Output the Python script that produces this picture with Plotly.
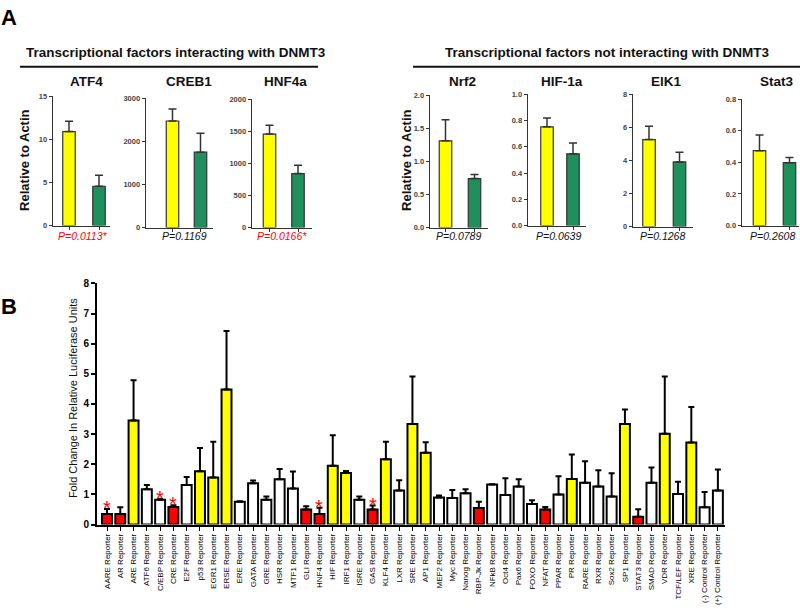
import plotly.graph_objects as go

W, H = 800, 608

# ---------------- Panel A data ----------------
a_targets = ["ATF4", "CREB1", "HNF4a", "Nrf2", "HIF-1a", "ElK1", "Stat3"]
a_yellow = [10.9, 2470, 1455, 1.31, 0.752, 5.26, 0.474]
a_yellow_err = [1.2, 280, 138, 0.32, 0.067, 0.81, 0.099]
a_green = [4.56, 1747, 840, 0.74, 0.546, 3.91, 0.398]
a_green_err = [1.28, 440, 132, 0.06, 0.082, 0.58, 0.033]
a_pvalues = ["P=0.0113*", "P=0.1169", "P=0.0166*", "P=0.0789", "P=0.0639", "P=0.1268", "P=0.2608"]
a_significant = [True, False, True, False, False, False, False]
a_ymax = [15, 3000, 2000, 2.0, 1.0, 8, 0.8]
a_dtick = [5, 1000, 500, 0.5, 0.2, 2, 0.2]
a_tickformat = ["d", "d", "d", ".1f", ".1f", "d", ".1f"]
a_group_titles = ["Transcriptional factors interacting with DNMT3",
                  "Transcriptional factors not interacting with DNMT3"]

# ---------------- Panel B data ----------------
b_labels = ["AARE Reporter", "AR Reporter", "ARE Reporter", "ATF6 Reporter", "C/EBP Reporter",
            "CRE Reporter", "E2F Reporter", "p53 Reporter", "EGR1 Reporter", "ERSE Reporter",
            "ERE Reporter", "GATA Reporter", "GRE Reporter", "HSR Reporter", "MTF1 Reporter",
            "GLI Reporter", "HNF4 Reporter", "HIF Reporter", "IRF1 Reporter", "ISRE Reporter",
            "GAS Reporter", "KLF4 Reporter", "LXR Reporter", "SRE Reporter", "AP1 Reporter",
            "MEF2 Reporter", "Myc Reporter", "Nanog Reporter", "RBP-Jk Reporter", "NFkB Reporter",
            "Oct4 Reporter", "Pax6 Reporter", "FOXO Reporter", "NFAT Reporter", "PPAR Reporter",
            "PR Reporter", "RARE Reporter", "RXR Reporter", "Sox2 Reporter", "SP1 Reporter",
            "STAT3 Reporter", "SMAD Reporter", "VDR Reporter", "TCF/LEF Reporter", "XRE Reporter",
            "(-) Control Reporter", "(+) Control Reporter"]
b_values = [0.35, 0.35, 3.45, 1.17, 0.82, 0.585, 1.31, 1.77, 1.56, 4.48,
            0.76, 1.37, 0.82, 1.50, 1.20, 0.50, 0.35, 1.95, 1.71, 0.82,
            0.50, 2.17, 1.13, 3.34, 2.38, 0.90, 0.88, 1.04, 0.55, 1.33,
            0.98, 1.26, 0.68, 0.50, 1.00, 1.51, 1.39, 1.26, 0.93, 3.34,
            0.26, 1.39, 3.01, 1.01, 2.72, 0.57, 1.13]
b_errors = [0.17, 0.22, 1.34, 0.14, 0.03, 0.055, 0.27, 0.77, 1.19, 1.94,
            0.01, 0.09, 0.11, 0.34, 0.56, 0.11, 0.21, 1.01, 0.07, 0.11,
            0.13, 0.58, 0.34, 1.57, 0.35, 0.065, 0.27, 0.13, 0.21, 0.01,
            0.56, 0.24, 0.13, 0.085, 0.60, 0.81, 0.71, 0.54, 0.77, 0.48,
            0.25, 0.50, 1.90, 0.41, 1.18, 0.51, 0.70]
b_groups = ["down", "down", "up", "none", "none", "down", "none", "up", "up", "up",
            "none", "none", "none", "none", "none", "down", "down", "up", "up", "none",
            "down", "up", "none", "up", "up", "none", "none", "none", "down", "none",
            "none", "none", "none", "down", "none", "up", "none", "none", "none", "up",
            "down", "none", "up", "none", "up", "none", "none"]
b_starred = ["AARE Reporter", "C/EBP Reporter", "CRE Reporter", "HNF4 Reporter", "GAS Reporter"]
b_yticks = [0, 1, 2, 3, 4, 5, 6, 7, 8]

# ---------------- styling / geometry ----------------
FONT = "Liberation Sans, Arial, sans-serif"
YELLOW = "#FFFF00"
GREEN = "#1F8F5B"
RED = "#FF0000"
group_colors = {"down": RED, "up": YELLOW, "none": "#FFFFFF"}

# axis-left px, yellow-centre px, green-centre px, axis-right px, top px, bottom px
a_geom = [
    (53, 69, 99, 110, 92, 224),
    (146, 172.5, 200.5, 213, 94, 226),
    (252, 269.5, 298, 312, 95, 226),
    (430, 445.5, 474.5, 488, 91, 226),
    (528, 547, 573, 586, 90, 224),
    (633, 649, 679.5, 693, 90, 225),
    (742, 759.5, 789.5, 799, 95, 224),
]


def px(x):
    return x / W


def py(y):
    return 1 - y / H


fig = go.Figure()
layout = {}
annotations = []
shapes = []

for i, name in enumerate(a_targets):
    idx = i + 1
    xa = "x" if idx == 1 else f"x{idx}"
    ya = "y" if idx == 1 else f"y{idx}"
    L, c0, c1, R, top, bot = a_geom[i]
    s = c1 - c0
    x0 = -(c0 - L) / s
    x1 = (R - c0) / s
    fig.add_trace(go.Bar(
        x=[0, 1], y=[a_yellow[i], a_green[i]],
        width=12.5 / s,
        marker=dict(color=[YELLOW, GREEN], line=dict(color="#333333", width=1.2)),
        error_y=dict(type="data", symmetric=False, array=[a_yellow_err[i], a_green_err[i]],
                     arrayminus=[0, 0], color="#333333", thickness=1.5, width=4),
        xaxis=xa, yaxis=ya, showlegend=False, hoverinfo="skip",
    ))
    layout["xaxis" if idx == 1 else f"xaxis{idx}"] = dict(
        domain=[px(L), px(R)], range=[x0, x1], anchor=ya,
        showline=True, linecolor="#333333", linewidth=1.4,
        ticks="outside", ticklen=3, tickcolor="#333333", tickvals=[0, 1],
        showticklabels=False, showgrid=False, zeroline=False, fixedrange=True,
    )
    layout["yaxis" if idx == 1 else f"yaxis{idx}"] = dict(
        domain=[py(bot), py(top)], range=[0, a_ymax[i]], anchor=xa,
        showline=True, linecolor="#333333", linewidth=1.4,
        ticks="outside", ticklen=3, tickcolor="#333333", dtick=a_dtick[i],
        tickformat=a_tickformat[i],
        tickfont=dict(family=FONT, size=7.5, color="#444444", weight="bold"),
        showgrid=False, zeroline=False, fixedrange=True,
    )
    # subplot title
    annotations.append(dict(
        x=px((c0 + c1) / 2 + 2), y=py(77), xref="paper", yref="paper",
        text=f"<b>{name}</b>", showarrow=False,
        font=dict(family=FONT, size=13.5, color="#111111"),
        xanchor="center", yanchor="middle"))
    # p-value
    annotations.append(dict(
        x=px((c0 + c1) / 2 - 2), y=py(234.5), xref="paper", yref="paper",
        text=f"<i>{a_pvalues[i]}</i>", showarrow=False,
        font=dict(family=FONT, size=10.5, color=RED if a_significant[i] else "#111111"),
        xanchor="center", yanchor="middle"))

# group titles and rules
for title, cx, x_l, x_r in [(a_group_titles[0], 176, 20, 318), (a_group_titles[1], 607, 413, 800)]:
    annotations.append(dict(
        x=px(cx), y=py(47), xref="paper", yref="paper", text=f"<b>{title}</b>",
        showarrow=False, font=dict(family=FONT, size=13.5, color="#111111"),
        xanchor="center", yanchor="middle"))
    shapes.append(dict(type="line", xref="paper", yref="paper",
                       x0=px(x_l), x1=px(x_r), y0=py(62), y1=py(62),
                       line=dict(color="#111111", width=2)))

# y titles for panel A
for xpos in (25, 407):
    annotations.append(dict(
        x=px(xpos), y=py(158), xref="paper", yref="paper", text="<b>Relative to Actin</b>",
        showarrow=False, textangle=-90, font=dict(family=FONT, size=13, color="#111111"),
        xanchor="center", yanchor="middle"))

# ---------------- Panel B ----------------
bL, bR, bTop, bBot = 97, 725, 283, 529
first_c, step = 107, 13.28
bx0 = -(first_c - bL) / step
bx1 = (bR - first_c) / step
fig.add_trace(go.Bar(
    x=b_labels, y=b_values, width=0.75,
    marker=dict(color=[group_colors[g] for g in b_groups], line=dict(color="#000000", width=2)),
    error_y=dict(type="data", symmetric=False, array=b_errors, arrayminus=[0] * len(b_errors),
                 color="#000000", thickness=2, width=3),
    xaxis="x8", yaxis="y8", showlegend=False, hoverinfo="skip",
))
layout["xaxis8"] = dict(
    domain=[px(bL), px(bR)], range=[bx0, bx1], anchor="y8",
    type="category", categoryorder="array", categoryarray=b_labels,
    showline=True, linecolor="#000000", linewidth=2,
    ticks="outside", ticklen=4, tickwidth=1, tickcolor="#000000",
    tickangle=-90, tickfont=dict(family=FONT, size=8, color="#000000"),
    showgrid=False, zeroline=False, fixedrange=True,
)
layout["yaxis8"] = dict(
    domain=[py(bBot), py(bTop)], range=[0, 8], anchor="x8",
    tickvals=b_yticks,
    showline=True, linecolor="#000000", linewidth=2,
    ticks="outside", ticklen=4, tickwidth=2, tickcolor="#000000",
    tickfont=dict(family=FONT, size=10, color="#000000", weight="bold"),
    showgrid=False, zeroline=False, fixedrange=True,
)
for lab in b_starred:
    k = b_labels.index(lab)
    annotations.append(dict(
        x=lab, y=b_values[k] + b_errors[k], xref="x8", yref="y8", text="*",
        showarrow=False, font=dict(family=FONT, size=20, color=RED),
        xanchor="center", yanchor="middle", yshift=1))

annotations.append(dict(
    x=px(73), y=py(400), xref="paper", yref="paper",
    text="Fold Change In Relative Luciferase Units", showarrow=False, textangle=-90,
    font=dict(family=FONT, size=11, color="#111111"), xanchor="center", yanchor="middle"))

# panel letters
annotations.append(dict(x=px(9), y=py(12), xref="paper", yref="paper", text="<b>A</b>",
                        showarrow=False, font=dict(family=FONT, size=22, color="#000000"),
                        xanchor="center", yanchor="middle"))
annotations.append(dict(x=px(9), y=py(307), xref="paper", yref="paper", text="<b>B</b>",
                        showarrow=False, font=dict(family=FONT, size=22, color="#000000"),
                        xanchor="center", yanchor="middle"))

fig.update_layout(
    width=W, height=H, margin=dict(l=0, r=0, t=0, b=0),
    paper_bgcolor="white", plot_bgcolor="white",
    barmode="overlay", bargap=0,
    annotations=annotations, shapes=shapes,
    font=dict(family=FONT),
    **layout,
)

fig.write_html(
    "out.html",
    config={"displayModeBar": False, "staticPlot": True},
    post_script="document.body.style.margin='0px';document.body.style.overflow='hidden';",
)
